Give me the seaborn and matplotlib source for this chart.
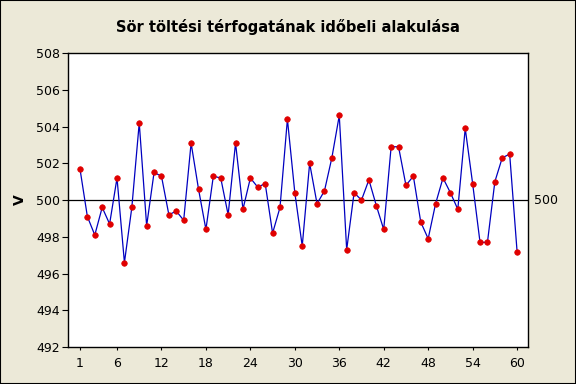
import matplotlib
matplotlib.use("Agg")
import matplotlib.pyplot as plt
import seaborn as sns
import pandas as pd

observations = list(range(1, 61))
volume = [501.7, 499.1, 498.1, 499.6, 498.7, 501.2, 496.6, 499.6, 504.2, 498.6,
          501.5, 501.3, 499.2, 499.4, 498.9, 503.1, 500.6, 498.4, 501.3, 501.2,
          499.2, 503.1, 499.5, 501.2, 500.7, 500.9, 498.2, 499.6, 504.4, 500.4,
          497.5, 502.0, 499.8, 500.5, 502.3, 504.6, 497.3, 500.4, 500.0, 501.1,
          499.7, 498.4, 502.9, 502.9, 500.8, 501.3, 498.8, 497.9, 499.8, 501.2,
          500.4, 499.5, 503.9, 500.9, 497.7, 497.7, 501.0, 502.3, 502.5, 497.2]
x_ticks = [1, 6, 12, 18, 24, 30, 36, 42, 48, 54, 60]
y_ticks = [492, 494, 496, 498, 500, 502, 504, 506, 508]
center = 500
title = "Sör töltési térfogatának időbeli alakulása"

df = pd.DataFrame({"obs": observations, "V": volume})

sns.set_style("white")
plt.rcParams["font.family"] = ["DejaVu Sans"]
plt.rcParams["text.color"] = "black"
plt.rcParams["xtick.color"] = "black"
plt.rcParams["ytick.color"] = "black"
plt.rcParams["axes.labelcolor"] = "black"
bg = "#ECE9D8"
fig = plt.figure(figsize=(5.76, 3.84), dpi=100, facecolor=bg)
ax = fig.add_axes([0.118, 0.096, 0.799, 0.766])
ax.set_facecolor("white")

ax.axhline(center, color="black", lw=0.9, zorder=1)
sns.lineplot(data=df, x="obs", y="V", ax=ax, color="#0000C0", lw=0.9,
             marker="o", markersize=4, markerfacecolor="#E00000",
             markeredgecolor="#E00000", markeredgewidth=0.5, zorder=3)

ax.set_xlim(-0.62, 61.5)
ax.set_ylim(492, 508)
ax.set_xticks(x_ticks)
ax.set_yticks(y_ticks)
ax.tick_params(axis="y", direction="out", length=4, width=0.8, labelsize=9, pad=2, left=True)
ax.tick_params(axis="x", direction="out", length=2, width=0.8, labelsize=9, pad=5, bottom=True)
for s in ax.spines.values():
    s.set_color("black")
    s.set_linewidth(1.0)
ax.set_xlabel("")
ax.set_ylabel("V", fontsize=10, fontweight="bold", labelpad=6)
ax.text(1.012, center, str(center), transform=ax.get_yaxis_transform(),
        va="center", ha="left", fontsize=9)
fig.suptitle(title, fontsize=10.5, fontweight="bold", y=0.95, color="black")

border = plt.Rectangle((0, 0), 1, 1, transform=fig.transFigure, fill=False,
                       edgecolor="black", lw=1.5)
fig.patches.append(border)
fig.savefig("out.png", dpi=100, facecolor=bg)
